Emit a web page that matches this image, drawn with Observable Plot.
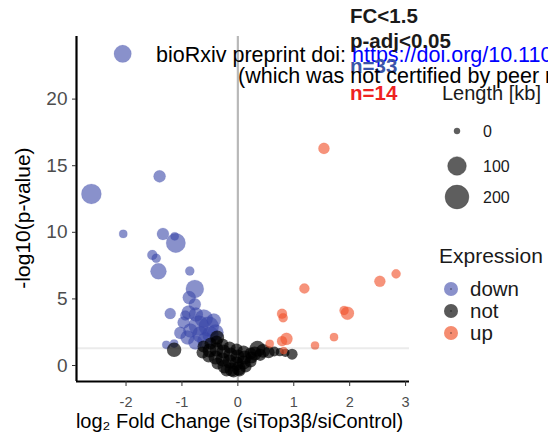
<!DOCTYPE html>
<html>
<head>
<meta charset="utf-8">
<script src="https://cdn.jsdelivr.net/npm/d3@7"></script>
<script src="https://cdn.jsdelivr.net/npm/@observablehq/plot@0.6"></script>
<style>
  html, body { margin: 0; padding: 0; background: white; }
  #wrap { position: relative; width: 548px; height: 443px; overflow: hidden; font-family: "Liberation Sans", Arial, sans-serif; }
  #wrap > svg { position: absolute; left: 0; top: 0; }
</style>
</head>
<body>
<div id="wrap"></div>
<script>
// ---------- data ----------
// log2 fold change, -log10(p), gene length [kb]
const downX = [-2.06, -2.62, -2.05, -1.40, -1.34, -1.11, -1.13, -1.53, -1.46, -1.42, -0.86, -0.77, -0.87, -0.77, -1.21, -0.94, -1.03, -1.14, -1.28,
               -0.88, -0.75, -0.61, -0.70, -0.52, -0.49, -0.67, -0.85, -0.43, -0.58, -0.97, -0.90, -0.76, -0.40];
const downY = [23.4, 12.88, 9.88, 14.2, 9.88, 9.2, 9.7, 8.3, 8.05, 7.07, 7.1, 5.75, 5.1, 4.6, 3.9, 3.75, 2.45, 1.65, 1.55,
               3.98, 3.83, 3.53, 3.0, 2.93, 2.33, 2.33, 2.63, 3.38, 1.88, 3.23, 2.1, 1.73, 2.48];
const downLen = [82, 124, 3, 23, 23, 113, 3, 10, 6, 63, 6, 91, 31, 23, 16, 10, 23, 3, 3,
                 40, 40, 91, 124, 124, 63, 63, 40, 40, 63, 23, 40, 40, 63];

const upX = [1.54, 1.19, 2.54, 2.83, 0.79, 0.81, 1.90, 1.96, 1.72, 1.38, 0.87, 0.79, 0.57, 0.82];
const upY = [16.3, 5.78, 6.32, 6.88, 3.88, 3.58, 4.13, 3.93, 2.13, 1.5, 2.0, 1.83, 1.63, 1.12];
const upLen = [16, 10, 16, 6, 10, 6, 6, 31, 3, 3, 23, 10, 3, 1];

const notX = [-1.14, -0.37, 0.35, 0.45, 0.55, 0.65, 0.75, 0.85, 0.97, 0.40, 0.30,
              -0.614, -0.488, -0.381, -0.274, -0.148, -0.023, 0.102, 0.227,
              -0.632, -0.506, -0.381, -0.256, -0.131, -0.005, 0.120, 0.245,
              -0.524, -0.399, -0.274, -0.148, -0.023, 0.102, 0.227,
              -0.363, -0.238, -0.113, 0.013, 0.138,
              -0.202, -0.077, 0.030];
const notY = [1.18, 2.1, 1.25, 1.1, 1.0, 1.05, 1.0, 0.95, 0.85, 0.8, 0.9,
              1.43, 1.65, 1.80, 1.58, 1.35, 1.20, 1.05, 0.90,
              0.975, 1.125, 1.20, 1.05, 0.825, 0.675, 0.60, 0.60,
              0.675, 0.60, 0.45, 0.30, 0.15, 0.225, 0.30,
              0.15, -0.075, -0.30, -0.225, -0.075,
              -0.375, -0.45, -0.375];
const notLen = [45, 40, 63, 40, 23, 10, 3, 3, 16, 23, 40,
                23, 23, 23, 23, 23, 23, 23, 23,
                23, 40, 40, 40, 40, 40, 40, 23,
                23, 40, 40, 40, 40, 40, 23,
                23, 40, 40, 40, 23,
                23, 23, 23];

const xTicks = [-2, -1, 0, 1, 2, 3];
const yTicks = [0, 5, 10, 15, 20];
const xDomain = [-2.886, 3.07];
const yDomain = [-1.2, 24.7];
const pThreshold = [-Math.log10(0.05)];
const vLine = [0];
const sizeLegend = [0, 100, 200];
const exprLevels = ["down", "not", "up"];
const exprColors = ["#8a91cb", "#595959", "#f58c70"];
const nDown = downX.length, nUp = upX.length;

const mk = (xs, ys, ls, e) => xs.map((x, i) => ({x, y: ys[i], len: ls[i], expr: e}));
const downData = mk(downX, downY, downLen, "down");
const upData = mk(upX, upY, upLen, "up");
const notData = mk(notX, notY, notLen, "not");

const font = "'Liberation Sans', Arial, sans-serif";
const fmt = d => String(d);

const plot = Plot.plot({
  width: 548, height: 443,
  marginLeft: 76, marginRight: 139, marginTop: 36, marginBottom: 62,
  x: {domain: xDomain},
  y: {domain: yDomain},
  r: {type: "sqrt", domain: [0, 200], range: [3, 11.9]},
  style: {fontFamily: font, background: "white", overflow: "visible"},
  marks: [
    Plot.dot(downData, {x: "x", y: "y", r: "len", fill: "#3b47a8", fillOpacity: 0.6, stroke: "#3b47a8", strokeOpacity: 0.2, strokeWidth: 0.6}),
    Plot.dot(notData, {x: "x", y: "y", r: "len", fill: "black", fillOpacity: 0.68, stroke: "none"}),
    Plot.dot(upData, {x: "x", y: "y", r: "len", fill: "#f0502a", fillOpacity: 0.62, stroke: "#f0502a", strokeOpacity: 0.25, strokeWidth: 0.6}),
    Plot.ruleX(vLine, {stroke: "black", strokeOpacity: 0.28, strokeWidth: 2.2}),
    Plot.ruleY(pThreshold, {stroke: "black", strokeOpacity: 0.08, strokeWidth: 2}),
    Plot.ruleX([xDomain[0]], {stroke: "black", strokeWidth: 2.2}),
    Plot.ruleY([yDomain[0]], {stroke: "black", strokeWidth: 2.2}),
    Plot.axisX({ticks: xTicks, tickFormat: fmt, tickSize: 5, tickPadding: 10, fontSize: 14.5, stroke: "#333", fill: "#4d4d4d", label: null}),
    Plot.axisY({ticks: yTicks, tickFormat: fmt, tickSize: 4, tickPadding: 5, fontSize: 19, stroke: "#333", fill: "#4d4d4d", label: null}),
    Plot.text(["-log10(p-value)"], {frameAnchor: "left", textAnchor: "middle", lineAnchor: "middle", dx: -53, dy: 9, rotate: -90, fontSize: 21, fill: "black"}),
    Plot.text(["log\u2082 Fold Change (siTop3\u03b2/siControl)"], {frameAnchor: "bottom", textAnchor: "middle", lineAnchor: "top", dx: -3.5, dy: 32, fontSize: 20, fill: "black"})
  ]
});
document.getElementById("wrap").appendChild(plot);

// ---------- overlay: annotations and legends ----------
const rScale = plot.scale("r");
const ov = d3.select("#wrap").append("svg")
  .attr("width", 548).attr("height", 443)
  .style("font-family", font);

const t1 = ov.append("text").attr("x", 156).attr("y", 62).attr("font-size", 21.5).attr("fill", "black");
t1.append("tspan").text("bioRxiv preprint doi: ");
t1.append("tspan").attr("fill", "#0000ff").text("https://doi.org/10.1101/2020.00.00.000000");

const bold = [["FC<1.5", 23, "#1a1a1a"], ["p-adj<0.05", 48, "#1a1a1a"], ["n=" + nDown, 73, "#3b55a8"], ["n=" + nUp, 100, "#ee2222"]];
bold.forEach(([s, y, c]) => ov.append("text").attr("x", 350).attr("y", y).attr("font-size", 20.5).attr("font-weight", "bold").attr("fill", c).text(s));

ov.append("text").attr("x", 238).attr("y", 83).attr("font-size", 21.5).attr("fill", "black")
  .text("(which was not certified by peer review) is the author/funder.");

// size legend
ov.append("text").attr("x", 442).attr("y", 100).attr("font-size", 20).attr("fill", "#1a1a1a").text("Length [kb]");
const sizeY = [131, 166, 197];
sizeLegend.forEach((v, i) => {
  ov.append("circle").attr("cx", 457).attr("cy", sizeY[i]).attr("r", rScale.apply(v)).attr("fill", "#5e5e5e").attr("stroke", "#444").attr("stroke-opacity", 0.4);
  ov.append("text").attr("x", 483).attr("y", sizeY[i]).attr("dy", "0.36em").attr("font-size", 16).attr("fill", "#1a1a1a").text(v);
});

// colour legend
ov.append("text").attr("x", 439).attr("y", 263).attr("font-size", 21).attr("fill", "#1a1a1a").text("Expression");
const exprY = [289, 311, 333];
exprLevels.forEach((e, i) => {
  ov.append("circle").attr("cx", 451).attr("cy", exprY[i]).attr("r", 7).attr("fill", exprColors[i]);
  ov.append("circle").attr("cx", 451).attr("cy", exprY[i]).attr("r", 1).attr("fill", "black").attr("fill-opacity", 0.35);
  ov.append("text").attr("x", 470).attr("y", exprY[i]).attr("dy", "0.34em").attr("font-size", 20.5).attr("fill", "#1a1a1a").text(e);
});
</script>
</body>
</html>
